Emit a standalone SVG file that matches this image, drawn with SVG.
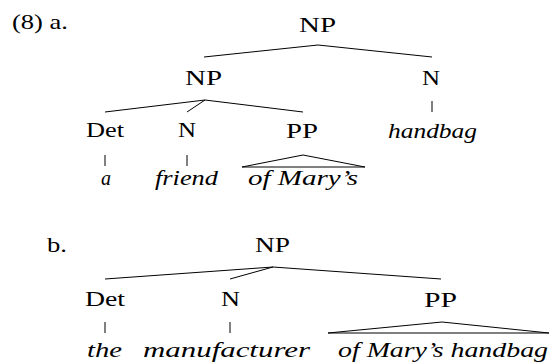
<svg xmlns="http://www.w3.org/2000/svg" width="550" height="363" viewBox="0 0 550 363">
<style>
text { font-family: 'Liberation Serif', 'DejaVu Serif', serif; font-size: 21px; fill: #000; }
.it { font-style: italic; }
.ln { stroke: #000; stroke-width: 1; fill: none; stroke-linecap: butt; }
</style>
<rect width="550" height="363" fill="#fff"/>
<g id="labels" font-family="Liberation Serif, DejaVu Serif, serif">
<text x="12" y="29" textLength="56" lengthAdjust="spacingAndGlyphs">(8) a.</text>
<text x="47" y="252" textLength="20" lengthAdjust="spacingAndGlyphs">b.</text>
</g>
<g id="connectors">
<polyline class="ln" points="204,57 318,45 432,57"/>
<polyline class="ln" points="105,112 205,100 303,112"/>
<line class="ln" x1="205" y1="100" x2="187" y2="112"/>
<line class="ln" x1="105" y1="155" x2="105" y2="166"/>
<line class="ln" x1="187" y1="155" x2="187" y2="166"/>
<line class="ln" x1="432" y1="101" x2="432" y2="112"/>
<polygon class="ln" points="242,167 303,155 365,167"/>
<polyline class="ln" points="105,279 273,267 441,279"/>
<line class="ln" x1="273" y1="267" x2="230" y2="279"/>
<line class="ln" x1="105" y1="322" x2="105" y2="333"/>
<line class="ln" x1="230" y1="322" x2="230" y2="333"/>
<polygon class="ln" points="328,333 442,322 549,333"/>
</g>
<g id="a-NP-top"><text x="299" y="32" textLength="37" lengthAdjust="spacingAndGlyphs">NP</text></g>
<g id="a-NP"><text x="185" y="85" textLength="37" lengthAdjust="spacingAndGlyphs">NP</text></g>
<g id="a-N-right"><text x="422" y="85" textLength="18" lengthAdjust="spacingAndGlyphs">N</text></g>
<g id="a-Det"><text x="86" y="137" textLength="38" lengthAdjust="spacingAndGlyphs">Det</text></g>
<g id="a-N"><text x="178" y="137" textLength="18" lengthAdjust="spacingAndGlyphs">N</text></g>
<g id="a-PP"><text x="286" y="138" textLength="32" lengthAdjust="spacingAndGlyphs">PP</text></g>
<g id="a-handbag"><text class="it" x="388" y="138" textLength="89" lengthAdjust="spacingAndGlyphs">handbag</text></g>
<g id="a-a"><text class="it" x="101" y="185" textLength="10" lengthAdjust="spacingAndGlyphs">a</text></g>
<g id="a-friend"><text class="it" x="155" y="185" textLength="63" lengthAdjust="spacingAndGlyphs">friend</text></g>
<g id="a-ofMarys"><text class="it" x="248" y="185" textLength="110" lengthAdjust="spacingAndGlyphs">of Mary’s</text></g>
<g id="b-NP"><text x="255" y="252" textLength="35" lengthAdjust="spacingAndGlyphs">NP</text></g>
<g id="b-Det"><text x="85" y="306" textLength="40" lengthAdjust="spacingAndGlyphs">Det</text></g>
<g id="b-N"><text x="221" y="306" textLength="19" lengthAdjust="spacingAndGlyphs">N</text></g>
<g id="b-PP"><text x="424" y="307" textLength="33" lengthAdjust="spacingAndGlyphs">PP</text></g>
<g id="b-the"><text class="it" x="87" y="357" textLength="35" lengthAdjust="spacingAndGlyphs">the</text></g>
<g id="b-manufacturer"><text class="it" x="143" y="357" textLength="167" lengthAdjust="spacingAndGlyphs">manufacturer</text></g>
<g id="b-ofMaryshandbag"><text class="it" x="338" y="357" textLength="210" lengthAdjust="spacingAndGlyphs">of Mary’s handbag</text></g>
</svg>
